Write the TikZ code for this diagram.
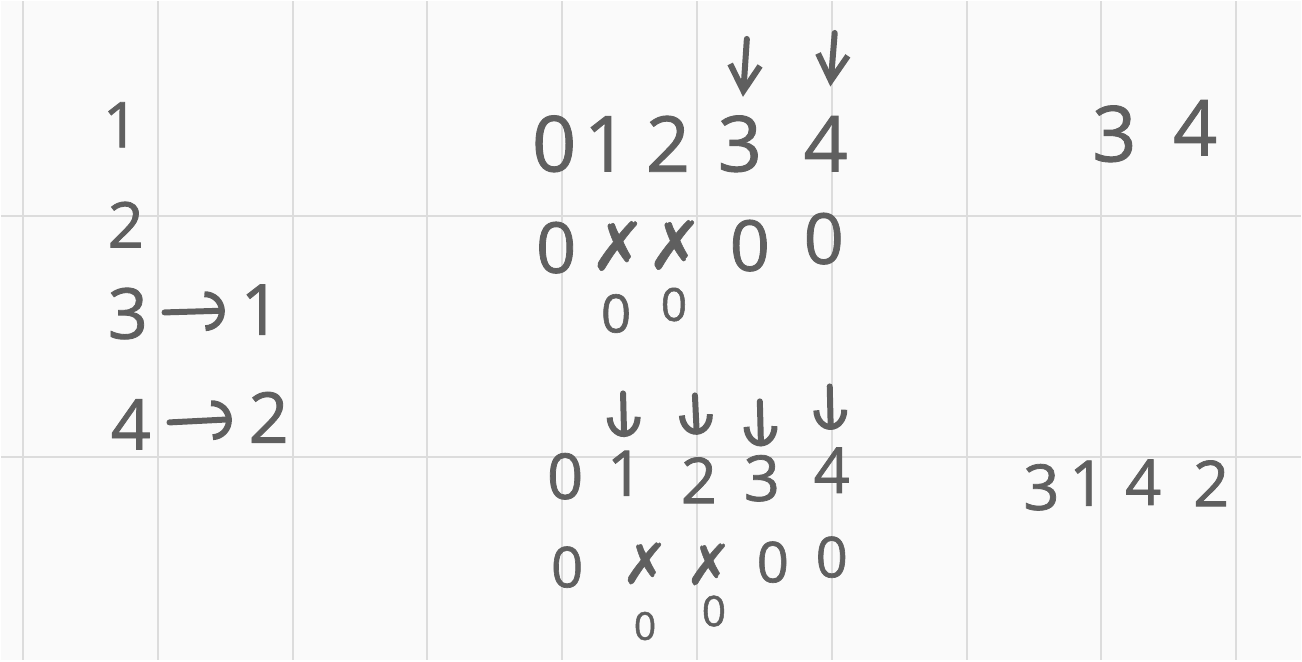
\documentclass[tikz,border=0pt]{standalone}
\usepackage{fontspec}
\setmainfont{Open Sans}[FakeBold=1.2]
\newfontfamily\inkfont{Open Sans}[FakeBold=1.2]
\newfontfamily\crossfont{DejaVu Sans}[FakeBold=0.8]
\usetikzlibrary{positioning, arrows.meta, graphs}
\definecolor{ink}{HTML}{5F5F5F}
\definecolor{paper}{HTML}{FAFAFA}
\definecolor{rule}{HTML}{DCDCDC}
\tikzset{
    digit/.style={text=ink, inner sep=0pt, font=\inkfont\fontsize{#1}{#1}\selectfont},
    digit/.default=22,
    cross/.style={text=ink, inner sep=0pt, text depth=0pt, font=\crossfont\fontsize{#1}{#1}\selectfont},
    cross/.default=19,
    grid line/.style={draw=rule, line width=0.2mm},
    pen/.style={draw=ink, line width=0.6mm, line cap=round, line join=round},
    down pointer/.style={pen, -{Straight Barb[length=2.6mm, width=3mm]}},
    curl pointer/.style={pen, -{Arc Barb[length=2mm, width=3.4mm]}},
    side pointer/.style={pen, -{Arc Barb[length=2mm, width=4mm]}}
}
\begin{document}
\begin{tikzpicture}[x=0.1mm, y=-0.1mm]
    \fill[paper] (0,0) rectangle (1302,660);
    \foreach \gx in {22,157,292,427,562,697,832,967,1102,1237}
        \draw[grid line] (\gx,0) -- (\gx,660);
    \draw[grid line] (0,215) -- (1302,215);
    \draw[grid line] (0,457) -- (1302,457);

    \node[digit=18] (left 1) at (120,124) {1};
    \node[digit=18] (left 2) at (125,224) {2};
    \node[digit=20] (left 3) at (127,313) {3};
    \node[digit=20] (left 3 to) at (260,309) {1};
    \node[digit=20] (left 4) at (130,424) {4};
    \node[digit=20] (left 4 to) at (268,417) {2};

    \node[digit] (top 0) at (554,143) {0};
    \node[digit] (top 1) at (606,143) {1};
    \node[digit] (top 2) at (668,143) {2};
    \node[digit] (top 3) at (740,143) {3};
    \node[digit] (top 4) at (826,143) {4};
    \coordinate (top pointer 3) at (747,38);
    \coordinate (top pointer 4) at (835,32);

    \node[digit=20] (top flag 0) at (556,247) {0};
    \node[cross] (top flag 1) at (618,245) {✗};
    \node[cross] (top flag 2) at (675,244) {✗};
    \node[digit=20] (top flag 3) at (750,245) {0};
    \node[digit=20] (top flag 4) at (824,238) {0};
    \node[digit=15] (top reset 1) at (616,313) {0};
    \node[digit=13] (top reset 2) at (674,304) {0};

    \node[digit] (top out 3) at (1115,133) {3};
    \node[digit] (top out 4) at (1196,127) {4};

    \node[digit=18] (low 0) at (565,476) {0};
    \node[digit=18] (low 1) at (625,473) {1};
    \node[digit=18] (low 2) at (699,480) {2};
    \node[digit=18] (low 3) at (762,478) {3};
    \node[digit=18] (low 4) at (832,470) {4};
    \coordinate (low pointer 1) at (623,393);
    \coordinate (low pointer 2) at (695,395);
    \coordinate (low pointer 3) at (760,401);
    \coordinate (low pointer 4) at (830,386);

    \node[digit=16] (low flag 0) at (567,567) {0};
    \node[cross=16] (low flag 1) at (645,563) {✗};
    \node[cross=16] (low flag 2) at (709,564) {✗};
    \node[digit=16] (low flag 3) at (773,562) {0};
    \node[digit=16] (low flag 4) at (832,557) {0};
    \node[digit=11] (low reset 1) at (645,626) {0};
    \node[digit=12] (low reset 2) at (714,611) {0};

    \node[digit=18] (low out 3) at (1042,487) {3};
    \node[digit=18] (low out 1) at (1088,483) {1};
    \node[digit=18] (low out 4) at (1144,482) {4};
    \node[digit=18] (low out 2) at (1212,483) {2};

    \draw[side pointer, shorten <=1.6mm, shorten >=1.5mm] (left 3) -- (left 3 to);
    \draw[side pointer, shorten <=1.8mm, shorten >=1.6mm] (left 4) -- (left 4 to);
    \draw[down pointer, shorten >=1.8mm] (top pointer 3) -- (top 3);
    \draw[down pointer, shorten >=2.9mm] (top pointer 4) -- (top 4);
    \draw[curl pointer, shorten >=1.3mm] (low pointer 1) -- (low 1);
    \draw[curl pointer, shorten >=2.2mm] (low pointer 2) -- (low 2);
    \draw[curl pointer, shorten >=0.8mm] (low pointer 3) -- (low 3);
    \draw[curl pointer, shorten >=1.7mm] (low pointer 4) -- (low 4);
\end{tikzpicture}
\end{document}
